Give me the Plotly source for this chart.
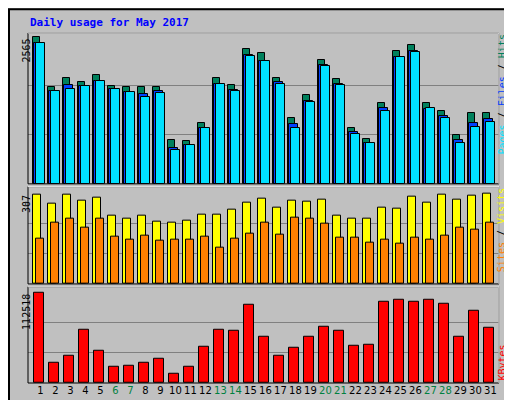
import plotly.graph_objects as go

days = list(range(1, 32))
day_labels = [str(d) for d in days]
weekend = [6, 7, 13, 14, 20, 21, 27, 28]

hits = [2565,1695,1840,1782,1903,1712,1695,1695,1695,772,754,1068,1840,1729,2356,2286,1851,1155,1555,2165,1834,981,789,1416,2321,2426,1416,1277,859,1242,1242]
files = [2461,1625,1729,1712,1799,1665,1607,1573,1625,633,685,981,1747,1642,2252,2147,1782,1050,1451,2077,1747,911,720,1329,2217,2321,1312,1190,772,1068,1137]
pages = [2461,1625,1660,1712,1799,1665,1607,1520,1590,598,685,981,1747,1625,2234,2147,1747,981,1433,2060,1729,876,720,1277,2217,2304,1329,1155,720,998,1085]
sites = [305,273,304,283,293,233,223,233,213,209,216,236,236,253,277,290,260,283,280,287,233,223,223,260,256,297,277,305,287,300,307]
visits = [155,209,223,192,223,162,152,165,148,152,152,162,125,155,172,209,169,226,223,206,159,159,142,152,138,159,152,165,192,186,209]
kbytes = [112518,24640,33260,66520,40650,19710,20940,24640,29560,11090,19710,45580,66520,65290,97320,57900,33260,44350,57900,70220,65290,46810,48040,101010,103480,101010,103480,98550,57900,89930,68980]

max_hits, max_sites, max_kb = 2565, 307, 112518

line = dict(color="black", width=1)
fig = go.Figure()
fig.add_bar(x=days, y=hits, offset=0.0, width=0.5, marker=dict(color="#00805c", line=line), yaxis="y")
fig.add_bar(x=days, y=files, offset=0.1, width=0.55, marker=dict(color="#0040ff", line=line), yaxis="y")
fig.add_bar(x=days, y=pages, offset=0.22, width=0.55, marker=dict(color="#00e0ff", line=line), yaxis="y")
fig.add_bar(x=days, y=sites, offset=0.0, width=0.56, marker=dict(color="#ffff00", line=line), yaxis="y2")
fig.add_bar(x=days, y=visits, offset=0.22, width=0.5, marker=dict(color="#ff8000", line=line), yaxis="y2")
fig.add_bar(x=days, y=kbytes, offset=0.07, width=0.67, marker=dict(color="#ff0000", line=line), yaxis="y3")

font = dict(family="DejaVu Sans Mono", size=10, color="black")
ticktext = [f"<span style='color:#008040'>{l}</span>" if d in weekend else l for d, l in zip(days, day_labels)]

def yax(dom, mx, top):
    return dict(domain=dom, range=[0, top], tickvals=[mx/3, 2*mx/3], showticklabels=False,
                showgrid=True, gridcolor="#808080", gridwidth=1, zeroline=False, ticks="",
                anchor="x", showline=False, fixedrange=True)

fig.update_layout(
    width=512, height=400, barmode="overlay", showlegend=False,
    paper_bgcolor="#c0c0c0", plot_bgcolor="#c0c0c0",
    margin=dict(l=20, r=21, t=25, b=22), bargap=0,
    xaxis=dict(range=[0.667, 32.07], tickvals=[d + 0.5 for d in days], ticktext=ticktext,
               tickfont=dict(family="DejaVu Sans", size=10, color="black"), tickangle=0,
               ticks="", showgrid=False, zeroline=False, anchor="y3", ticklen=0),
    yaxis=yax([0.569, 1.0], max_hits, max_hits * 152 / 148),
    yaxis2=yax([0.283, 0.561], max_sites, max_sites * 98 / 91),
    yaxis3=yax([0.0, 0.275], max_kb, max_kb * 97 / 91.3),
    font=font,
)

shapes = [
    dict(type="rect", xref="paper", yref="paper", x0=-19/471, x1=1+20/471, y0=-21/353, y1=1+24/353,
         line=dict(color="black", width=2)),
]
for y0, y1 in [(0.569, 1.0), (0.283, 0.561), (0.0, 0.275)]:
    shapes.append(dict(type="rect", xref="paper", yref="paper", x0=0, x1=1, y0=y0, y1=y1,
                       line=dict(color="black", width=1)))
    shapes.append(dict(type="line", xref="paper", yref="paper", x0=0, x1=1, y0=y1, y1=y1,
                       line=dict(color="white", width=1)))
    shapes.append(dict(type="line", xref="paper", yref="paper", x0=1, x1=1, y0=y0, y1=y1,
                       line=dict(color="white", width=1)))
fig.update_layout(shapes=shapes)

side = dict(family="DejaVu Sans Mono", size=10, color="black")
ann = [
    dict(text="<b>Daily usage for May 2017</b>", x=0, y=1 + 11/353, xref="paper", yref="paper",
         xanchor="left", yanchor="middle", showarrow=False,
         font=dict(family="DejaVu Sans Mono", size=11, color="#0000ff")),
    dict(text="<span style='color:#00e0ff'>Pages</span> / <span style='color:#0040ff'>Files</span> / <span style='color:#00805c'>Hits</span>",
         x=1 + 10/471, y=1.0, yanchor="top", xref="paper", yref="paper", textangle=-90,
         showarrow=False, font=side),
    dict(text="<span style='color:#ff8000'>Sites</span> / <span style='color:#ffff00'>Visits</span>",
         x=1 + 10/471, y=0.561, yanchor="top", xref="paper", yref="paper", textangle=-90,
         showarrow=False, font=side),
    dict(text="<span style='color:#ff0000'>KBytes</span>",
         x=1 + 10/471, y=0.0, yanchor="bottom", xref="paper", yref="paper", textangle=-90,
         showarrow=False, font=side),
    dict(text=str(max_hits), x=-9/471, xref="paper", y=max_hits, yref="y", yanchor="top",
         textangle=-90, showarrow=False, font=side),
    dict(text=str(max_sites), x=-9/471, xref="paper", y=max_sites, yref="y2", yanchor="top",
         textangle=-90, showarrow=False, font=side),
    dict(text=str(max_kb), x=-9/471, xref="paper", y=max_kb, yref="y3", yanchor="top",
         textangle=-90, showarrow=False, font=side),
]
fig.update_layout(annotations=ann)
fig.write_html("out.html")
